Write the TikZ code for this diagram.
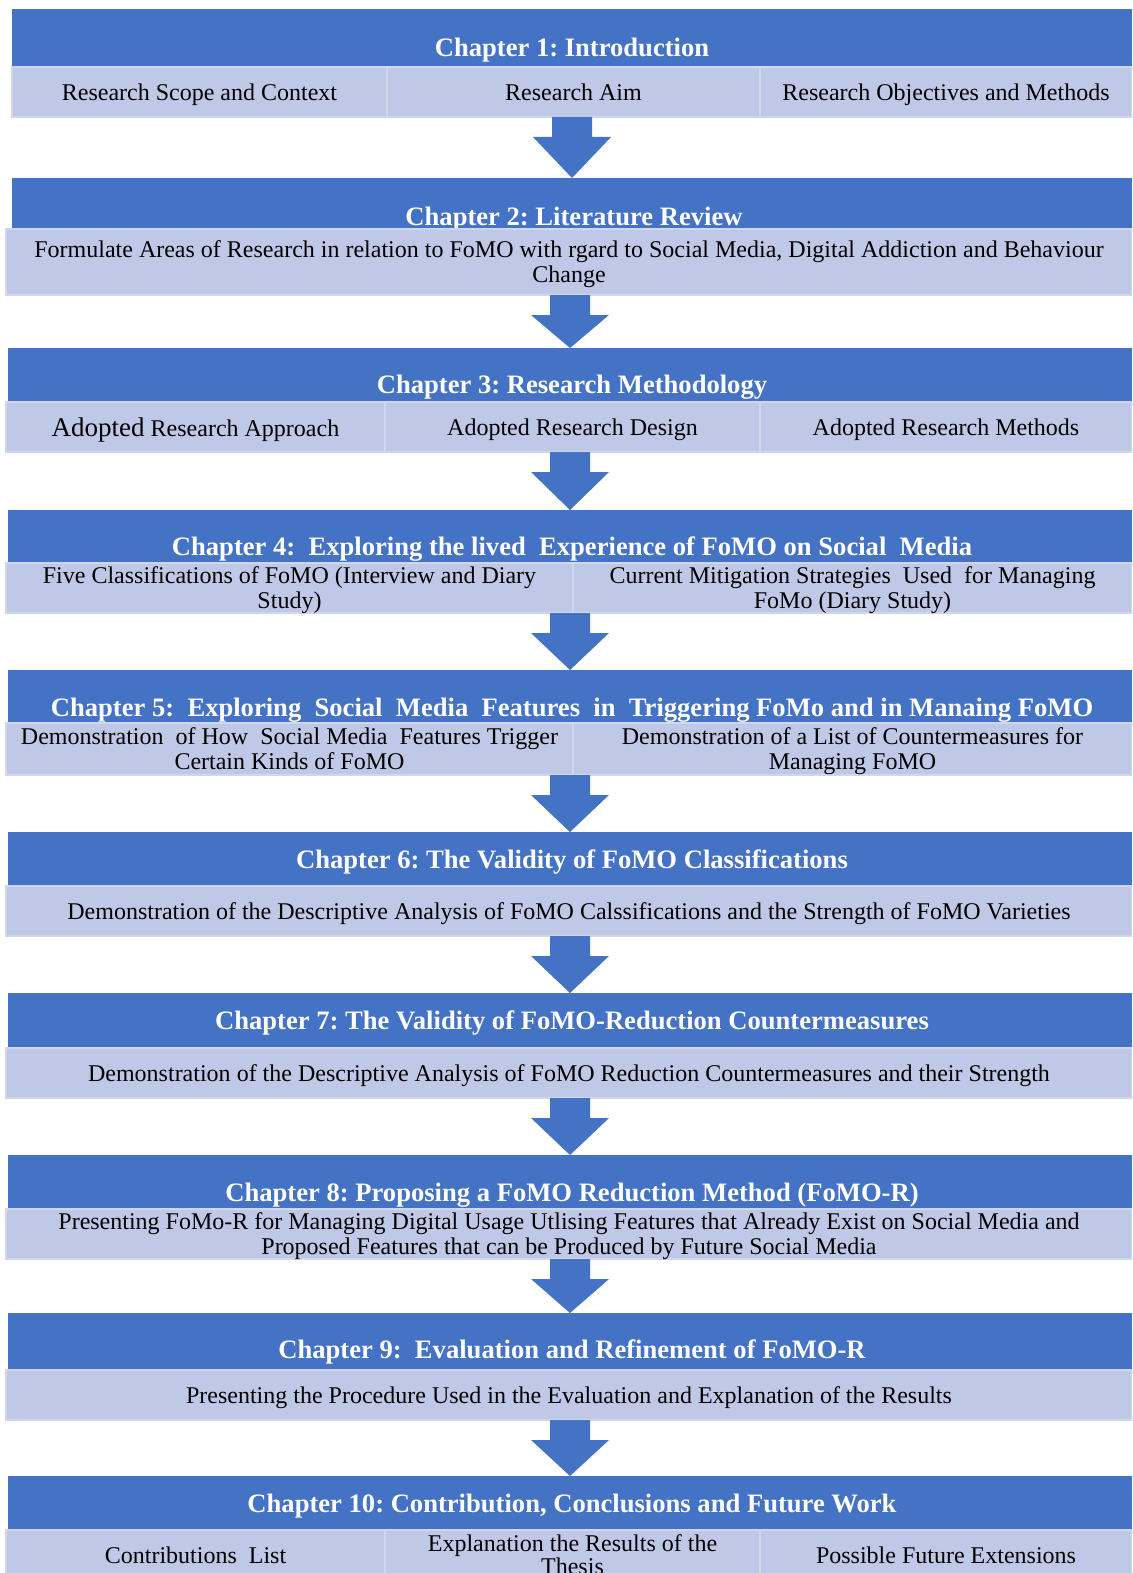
\documentclass[tikz,border=0pt]{standalone}
\usepackage{fontspec}
\setmainfont{Liberation Serif}
\usepackage{xcolor}
\usepackage{tikz}
\usetikzlibrary{calc, positioning}

\definecolor{hdrblue}{HTML}{4472C4}
\definecolor{subfill}{HTML}{BFC8E6}
\definecolor{subedge}{HTML}{D0D6EC}
\frenchspacing

\begin{document}
\begin{tikzpicture}[
  x=0.5pt, y=-0.5pt,
  hdr/.style={fill=hdrblue, anchor=north west, inner sep=0pt, outer sep=0pt},
  ttl/.style={text=white, font=\fontsize{13.3}{15}\selectfont\bfseries, inner sep=0pt, text depth=0pt},
  sub/.style={fill=subfill, draw=subedge, line width=1.2pt, anchor=north west, minimum height=25pt, inner sep=0pt, outer sep=0pt, align=center, text depth=0pt, font=\fontsize{12}{12.5}\selectfont},
  blockarrow/.style={fill=hdrblue, to path={let \p1=(\tikztostart), \p2=(\tikztotarget) in
    (\x2-10pt,\y1) -- (\x2+10pt,\y1) -- (\x2+10pt,\y1-10pt) -- (\x2+19.5pt,\y1-10pt)
    -- (\p2) -- (\x2-19.5pt,\y1-10pt) -- (\x2-10pt,\y1-10pt) -- cycle}}
]
\useasboundingbox (0,0) rectangle (1132,1573);
\clip (0,0) rectangle (1132,1573);

% chapter 1
\node[hdr, minimum width=560pt, minimum height=29pt] (h1) at (12,9) {};
\node[ttl] (t1) at (572,47) {Chapter 1: Introduction};
\node[sub, minimum width=187.5pt] (s1a) at (12,67) {Research Scope and Context};
\node[sub, minimum width=186.5pt] (s1b) at (387,67) {Research Aim};
\node[sub, minimum width=186pt] (s1c) at (760,67) {Research Objectives and Methods};

% chapter 2
\node[hdr, minimum width=560pt, minimum height=25.5pt] (h2) at (12,178) {};
\node[ttl] (t2) at (574,216) {Chapter 2: Literature Review};
\node[sub, minimum width=563pt, minimum height=33pt] (s2) at (6,229)
  {Formulate Areas of Research in relation to FoMO with rgard to Social Media, Digital Addiction and Behaviour\\Change};

% chapter 3
\node[hdr, minimum width=562pt, minimum height=27pt] (h3) at (8,348) {};
\node[ttl] (t3) at (572,384) {Chapter 3: Research Methodology};
\node[sub, minimum width=189.5pt] (s3a) at (6,402) {{\fontsize{13.5}{14}\selectfont Adopted} Research Approach};
\node[sub, minimum width=187.5pt] (s3b) at (385,402) {Adopted Research Design};
\node[sub, minimum width=186pt] (s3c) at (760,402) {Adopted Research Methods};

% chapter 4
\node[hdr, minimum width=562pt, minimum height=26.5pt] (h4) at (8,510) {};
\node[ttl] (t4) at (572,546) {Chapter 4:\ \ Exploring the lived\ \ Experience of FoMO on Social\ \ Media};
\node[sub, minimum width=283.5pt] (s4a) at (6,563) {Five Classifications of FoMO (Interview and Diary\\Study)};
\node[sub, minimum width=279.5pt] (s4b) at (573,563) {Current Mitigation Strategies\ \ Used\ \ for Managing\\FoMo (Diary Study)};

% chapter 5
\node[hdr, minimum width=562pt, minimum height=26.5pt] (h5) at (8,670) {};
\node[ttl] (t5) at (572,707) {Chapter 5:\ \ Exploring\ \ Social\ \ Media\ \ Features\ \ in\ \ Triggering FoMo and in Manaing FoMO};
\node[sub, minimum width=283.5pt, minimum height=26pt] (s5a) at (6,723) {Demonstration\ \ of How\ \ Social Media\ \ Features Trigger\\Certain Kinds of FoMO};
\node[sub, minimum width=279.5pt, minimum height=26pt] (s5b) at (573,723) {Demonstration of a List of Countermeasures for\\Managing FoMO};

% chapter 6
\node[hdr, minimum width=562pt, minimum height=27pt] (h6) at (8,832) {};
\node[ttl] (t6) at (572,859) {Chapter 6: The Validity of FoMO Classifications};
\node[sub, minimum width=563pt] (s6) at (6,886) {Demonstration of the Descriptive Analysis of FoMO Calssifications and the Strength of FoMO Varieties};

% chapter 7
\node[hdr, minimum width=562pt, minimum height=27.5pt] (h7) at (8,993) {};
\node[ttl] (t7) at (572,1020) {Chapter 7: The Validity of FoMO-Reduction Countermeasures};
\node[sub, minimum width=563pt] (s7) at (6,1048) {Demonstration of the Descriptive Analysis of FoMO Reduction Countermeasures and their Strength};

% chapter 8
\node[hdr, minimum width=562pt, minimum height=27pt] (h8) at (8,1155) {};
\node[ttl] (t8) at (572,1192) {Chapter 8: Proposing a FoMO Reduction Method (FoMO-R)};
\node[sub, minimum width=563pt] (s8) at (6,1209) {Presenting FoMo-R for Managing Digital Usage Utlising Features that Already Exist on Social Media and\\Proposed Features that can be Produced by Future Social Media};

% chapter 9
\node[hdr, minimum width=562pt, minimum height=28.5pt] (h9) at (8,1313) {};
\node[ttl] (t9) at (572,1349) {Chapter 9:\ \ Evaluation and Refinement of FoMO-R};
\node[sub, minimum width=563pt] (s9) at (6,1370) {Presenting the Procedure Used in the Evaluation and Explanation of the Results};

% chapter 10
\node[hdr, minimum width=562pt, minimum height=27pt] (h10) at (8,1476) {};
\node[ttl] (t10) at (572,1503) {Chapter 10: Contribution, Conclusions and Future Work};
\node[sub, minimum width=189.5pt] (s10a) at (6,1530) {Contributions\ \ List};
\node[sub, minimum width=187.5pt, font=\fontsize{12}{11.5}\selectfont] (s10b) at (385,1530) {Explanation the Results of the\\Thesis};
\node[sub, minimum width=186pt] (s10c) at (760,1530) {Possible Future Extensions};

% block arrows between chapters
\path[blockarrow] (s1b.south -| h2.north) to (h2.north);
\path[blockarrow] (s2.south -| h3.north) to (h3.north);
\path[blockarrow] (s3b.south -| h4.north) to (h4.north);
\path[blockarrow] (s4a.south -| h5.north) to (h5.north);
\path[blockarrow] (s5a.south -| h6.north) to (h6.north);
\path[blockarrow] (s6.south -| h7.north) to (h7.north);
\path[blockarrow] (s7.south -| h8.north) to (h8.north);
\path[blockarrow] (s8.south -| h9.north) to (h9.north);
\path[blockarrow] (s9.south -| h10.north) to (h10.north);
\end{tikzpicture}
\end{document}
